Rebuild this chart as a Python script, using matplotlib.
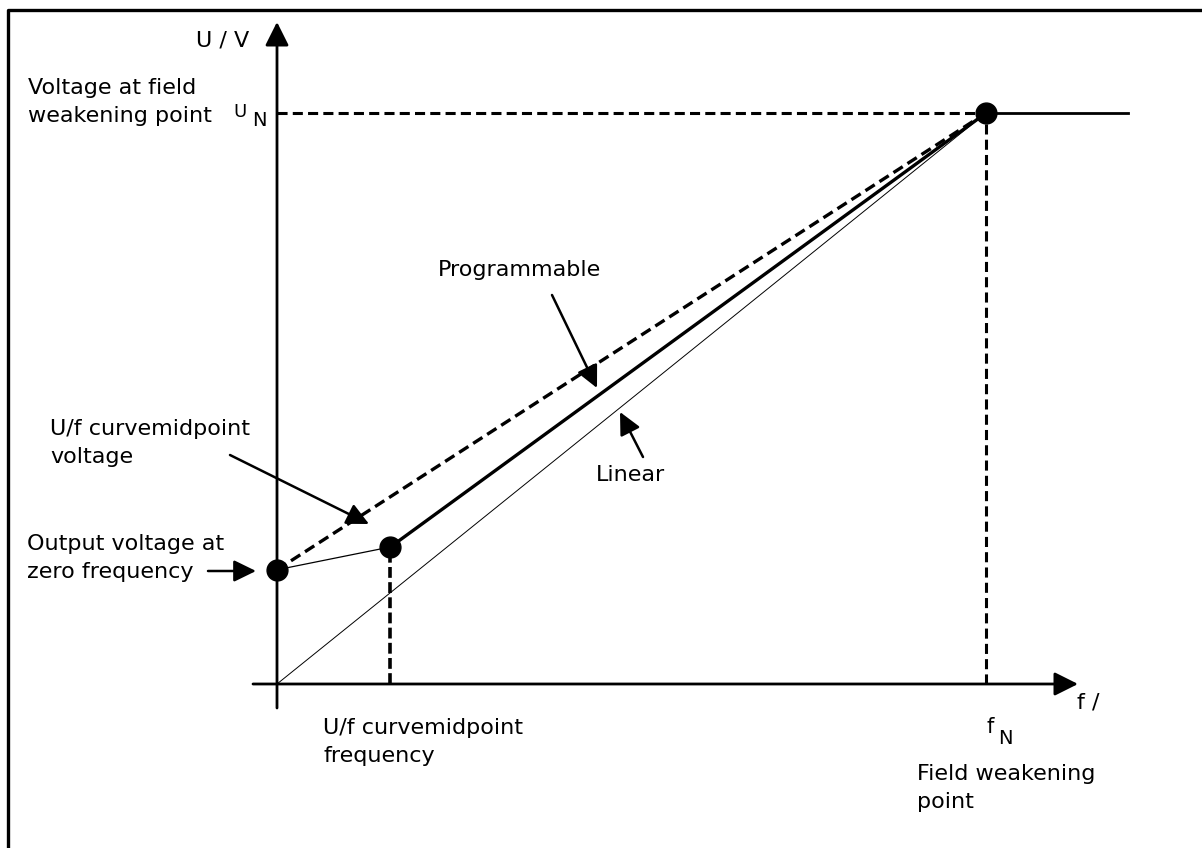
import matplotlib
matplotlib.use("Agg")
import matplotlib.pyplot as plt
from matplotlib.lines import Line2D

# ---- data (f in % of f_N, U in % of U_N) ----
f_nodes = [0, 16, 100]      # zero frequency, U/f midpoint, field weakening point
u_nodes = [20, 24, 100]
f_prog = [0, 100]           # programmable (dashed)
u_prog = [20, 100]
f_lin = [0, 100]            # linear
u_lin = [0, 100]
f_ext = [100, 120]          # constant voltage above field weakening
u_ext = [100, 100]

W, H = 1202, 848
OX, OY = 277, 684           # pixel position of origin
SX, SY = 7.09, 5.71         # pixels per data unit

def X(px):
    return (px - OX) / SX

def Y(py):
    return (OY - py) / SY

fig = plt.figure(figsize=(W / 100, H / 100), dpi=100)
ax = fig.add_axes([0, 0, 1, 1])
ax.set_xlim(X(0), X(W))
ax.set_ylim(Y(H), Y(0))
ax.axis("off")

FONT = "DejaVu Sans"
FS = 16

# border (left and top only)
fig.add_artist(Line2D([8 / W, 8 / W, 1], [0, 1 - 10 / H, 1 - 10 / H],
                      transform=fig.transFigure, color="black", lw=2.4))

# axes with arrows
ax.annotate("", xy=(0, Y(22)), xytext=(0, Y(708)),
            arrowprops=dict(arrowstyle="-|>,head_length=0.4,head_width=0.2",
                            mutation_scale=36, lw=2.0, color="black",
                            shrinkA=0, shrinkB=0))
ax.annotate("", xy=(X(1078), 0), xytext=(X(253), 0),
            arrowprops=dict(arrowstyle="-|>,head_length=0.4,head_width=0.2",
                            mutation_scale=36, lw=2.0, color="black",
                            shrinkA=0, shrinkB=0))

dash = (0, (3.3, 1.7))
# guide lines
ax.plot([0, f_nodes[2]], [u_nodes[2], u_nodes[2]], color="black", lw=2.2, linestyle=dash)
ax.plot([f_nodes[2], f_nodes[2]], [0, u_nodes[2]], color="black", lw=2.2, linestyle=dash)
ax.plot([f_nodes[1], f_nodes[1]], [0, u_nodes[1]], color="black", lw=2.6, linestyle=(0, (3.0, 1.2)))

# curves
ax.plot(f_lin, u_lin, color="black", lw=0.7)
ax.plot(f_prog, u_prog, color="black", lw=2.4, linestyle=dash)
ax.plot(f_nodes[:2], u_nodes[:2], color="black", lw=0.9)
ax.plot(f_nodes[1:], u_nodes[1:], color="black", lw=2.4)
ax.plot(f_ext, u_ext, color="black", lw=2.0)
ax.plot(f_nodes, u_nodes, linestyle="none", marker="o", ms=15, color="black")

# text
def T(px, py, s, **kw):
    kw.setdefault("fontsize", FS)
    kw.setdefault("family", FONT)
    kw.setdefault("va", "center")
    kw.setdefault("linespacing", 1.5)
    ax.text(X(px), Y(py), s, color="black", **kw)

T(249, 40, "U / V", ha="right")
T(28, 102, "Voltage at field\nweakening point", ha="left")
T(240, 112, "U", ha="center", fontsize=13)
T(259, 121, "N", ha="center", fontsize=14)
T(1077, 703, "f /", ha="left")
T(990, 727, "f", ha="center", fontsize=15)
T(1005, 738, "N", ha="center", fontsize=14)
T(917, 788, "Field weakening\npoint", ha="left")
T(323, 742, "U/f curvemidpoint\nfrequency", ha="left")
T(50, 443, "U/f curvemidpoint\nvoltage", ha="left")
T(27, 558, "Output voltage at\nzero frequency", ha="left")
T(520, 270, "Programmable", ha="center")
T(631, 475, "Linear", ha="center")

# annotation arrows
def A(p_tail, p_head):
    ax.annotate("", xy=(X(p_head[0]), Y(p_head[1])),
                xytext=(X(p_tail[0]), Y(p_tail[1])),
                arrowprops=dict(arrowstyle="-|>,head_length=0.45,head_width=0.22",
                                mutation_scale=30, lw=1.8, color="black",
                                shrinkA=0, shrinkB=0))

A((552, 295), (597, 388))
A((643, 457), (620, 412))
A((230, 455), (369, 524))
A((208, 571), (256, 571))

fig.savefig("out.png", dpi=100, facecolor="white")
